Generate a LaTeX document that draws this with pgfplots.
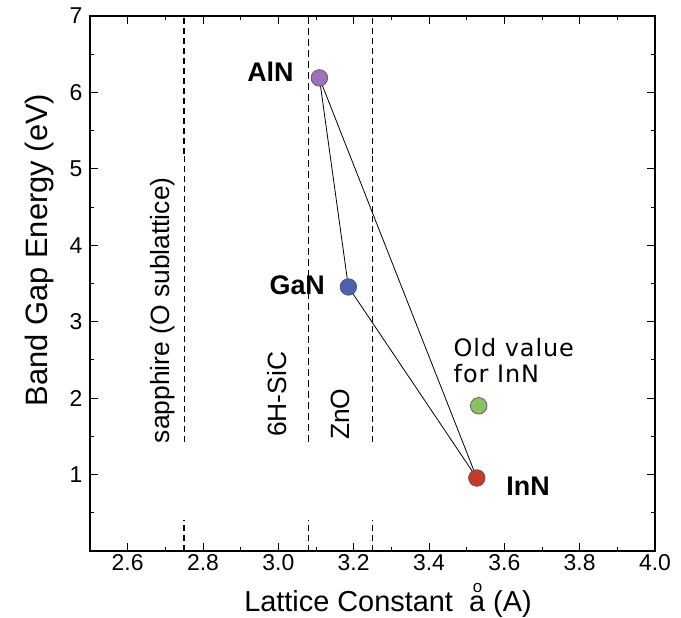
\documentclass[border=0pt]{standalone}
\usepackage{fontspec}
\setmainfont{Liberation Sans}
\newfontfamily\dejavu[LetterSpace=4]{DejaVu Sans}
\usepackage{pgfplots}
\pgfplotsset{compat=1.18}
\usetikzlibrary{calc}
\definecolor{alncol}{HTML}{A070B8}
\definecolor{gancol}{HTML}{4B62B0}
\definecolor{inncol}{HTML}{C33C2A}
\definecolor{oldcol}{HTML}{8DC063}
\begin{document}
\begin{tikzpicture}
\begin{axis}[
 name=ax,
 scale only axis, width=565bp, height=535bp,
 xmin=2.5, xmax=4.0, ymin=0, ymax=7,
 xtick={2.6,2.8,3.0,3.2,3.4,3.6,3.8,4.0},
 minor xtick={2.7,2.9,3.1,3.3,3.5,3.7,3.9},
 ytick={1,2,3,4,5,6,7},
 minor ytick={0.5,1.5,2.5,3.5,4.5,5.5,6.5},
 tick align=inside, xtick pos=both, ytick pos=both,
 major tick length=8bp, minor tick length=4bp,
 axis line style={line width=1.1bp},
 major tick style={black, line width=0.9bp},
 minor tick style={black, line width=0.9bp},
 tick label style={font=\fontsize{23}{27}\selectfont},
 /pgf/number format/assume math mode=true,
 xticklabel style={/pgf/number format/.cd, fixed, fixed zerofill, precision=1},
 yticklabel style={xshift=-4bp},
 xlabel={Lattice Constant\ \ {\rlap{\hspace{0.13em}\raisebox{0.68em}{\fontsize{17}{17}\selectfont o}}a} (A)},
 ylabel={Band Gap Energy (eV)},
 xlabel style={at={(axis description cs:0.5274,-0.114)}, anchor=base, font=\fontsize{29}{33}\selectfont},
 ylabel style={at={(axis description cs:-0.0885,0.5626)}, anchor=center, font=\fontsize{31}{35}\selectfont},
]
% substrate lines
\addplot[black, line width=1.9bp, dash pattern=on 6bp off 4bp] coordinates {(2.75,5.2) (2.75,7)};
\addplot[black, line width=1.0bp, dash pattern=on 6bp off 4bp] coordinates {(2.75,1.43) (2.75,5.2)};
\addplot[black, line width=1.4bp, dash pattern=on 6bp off 4bp] coordinates {(2.75,0) (2.75,0.4)};
\addplot[black, line width=1.0bp, dash pattern=on 7bp off 4bp] coordinates {(3.08,1.43) (3.08,7)};
\addplot[black, line width=1.3bp, dash pattern=on 6bp off 4bp] coordinates {(3.08,0) (3.08,0.4)};
\addplot[black, line width=1.9bp, dash pattern=on 6bp off 4bp] coordinates {(3.25,5.2) (3.25,7)};
\addplot[black, line width=1.0bp, dash pattern=on 6bp off 4bp] coordinates {(3.25,1.43) (3.25,5.2)};
\addplot[black, line width=1.9bp, dash pattern=on 6bp off 4bp] coordinates {(3.25,0) (3.25,0.4)};
% markers
\addplot[only marks, mark=*, mark size=8.3bp, mark options={fill=alncol, draw=black!65, line width=0.7bp}] coordinates {(3.109,6.19)};
\addplot[only marks, mark=*, mark size=8.3bp, mark options={fill=gancol, draw=black!65, line width=0.7bp}] coordinates {(3.186,3.455)};
\addplot[only marks, mark=*, mark size=8.3bp, mark options={fill=inncol, draw=black!65, line width=0.7bp}] coordinates {(3.527,0.955)};
\addplot[only marks, mark=*, mark size=8.3bp, mark options={fill=oldcol, draw=black!65, line width=0.7bp}] coordinates {(3.532,1.90)};
% triangle
\addplot[black, line width=0.8bp] coordinates {(3.109,6.19) (3.186,3.455) (3.527,0.955) (3.109,6.19)};
% labels
\node[anchor=base east, font=\bfseries\fontsize{27}{30}\selectfont] at (axis cs:3.05,6.14) {AlN};
\node[anchor=base east, font=\bfseries\fontsize{27}{30}\selectfont] at (axis cs:3.133,3.35) {GaN};
\node[anchor=base west, font=\bfseries\fontsize{27}{30}\selectfont] at (axis cs:3.596,0.73) {InN};
\node[anchor=base west, inner sep=0pt, font=\dejavu\fontsize{24}{28}\selectfont] at (axis cs:3.465,2.54) {Old value};
\node[anchor=base west, inner sep=0pt, font=\dejavu\fontsize{24}{28}\selectfont] at (axis cs:3.465,2.20) {for InN};
\node[rotate=90, anchor=west, inner sep=0pt, font=\fontsize{26.5}{30}\selectfont] at (axis cs:2.6928,1.41) {sapphire (O sublattice)};
\node[rotate=90, anchor=west, inner sep=0pt, font=\fontsize{26.5}{30}\selectfont] at (axis cs:2.997,1.49) {6H-SiC};
\node[rotate=90, anchor=west, inner sep=0pt, font=\fontsize{26.5}{30}\selectfont] at (axis cs:3.165,1.45) {ZnO};
\end{axis}
\pgfresetboundingbox
\path[use as bounding box] ($(ax.south west)+(-90bp,-67bp)$) rectangle ($(ax.north east)+(26bp,16bp)$);
\end{tikzpicture}
\end{document}
